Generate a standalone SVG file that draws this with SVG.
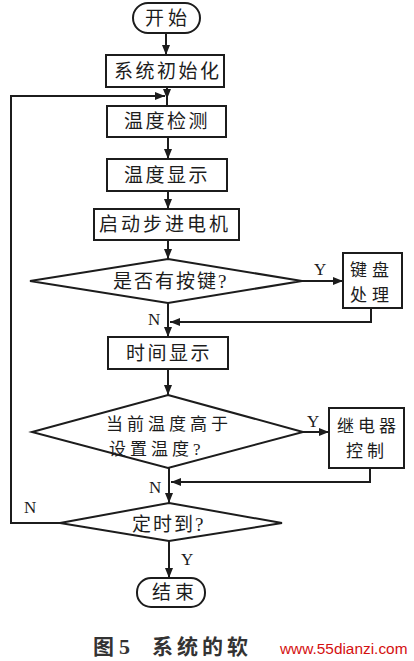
<svg xmlns="http://www.w3.org/2000/svg" width="414" height="661" viewBox="0 0 414 661">
<defs>
<style>
.box{fill:#fff;stroke:#1c1c1c;stroke-width:2}
.ln{fill:none;stroke:#1c1c1c;stroke-width:2}
.t{font-family:"Noto Sans CJK SC","Noto Sans CJK JP",sans-serif;font-size:19px;fill:#1c1c1c}
.t2{font-family:"Noto Sans CJK SC","Noto Sans CJK JP",sans-serif;font-size:17px;fill:#1c1c1c}
.q{font-family:"Liberation Serif",serif}
.yn{font-family:"Liberation Serif",serif;font-size:17px;fill:#1c1c1c}
</style>
<marker id="ah" viewBox="0 0 10 8" refX="10" refY="4" markerWidth="10" markerHeight="8" markerUnits="userSpaceOnUse" orient="auto">
<path d="M0,0 L10,4 L0,8 Z" fill="#1c1c1c"/>
</marker>
</defs>
<rect width="414" height="661" fill="#fff"/>
<g id="connectors">
<line class="ln" x1="166" y1="33" x2="166" y2="55" marker-end="url(#ah)"/>
<line class="ln" x1="167" y1="87" x2="167" y2="106"/>
<line class="ln" x1="167" y1="87" x2="167" y2="99" marker-end="url(#ah)"/>
<polyline class="ln" points="60,523 11,523 11,96 165,96" marker-end="url(#ah)"/>
<line class="ln" x1="168" y1="137" x2="168" y2="159" marker-end="url(#ah)"/>
<line class="ln" x1="168" y1="191" x2="168" y2="209" marker-end="url(#ah)"/>
<line class="ln" x1="168" y1="240" x2="168" y2="259" marker-end="url(#ah)"/>
<line class="ln" x1="302" y1="281" x2="343" y2="281" marker-end="url(#ah)"/>
<line class="ln" x1="168" y1="303" x2="168" y2="337" marker-end="url(#ah)"/>
<polyline class="ln" points="371,308 371,322 170,322" marker-end="url(#ah)"/>
<line class="ln" x1="168" y1="369" x2="168" y2="395" marker-end="url(#ah)"/>
<line class="ln" x1="303" y1="432" x2="329" y2="432" marker-end="url(#ah)"/>
<line class="ln" x1="169" y1="468" x2="169" y2="503" marker-end="url(#ah)"/>
<polyline class="ln" points="370,468 370,482 171,482" marker-end="url(#ah)"/>
<line class="ln" x1="169" y1="541" x2="169" y2="578" marker-end="url(#ah)"/>
<text class="yn" x="314" y="275">Y</text>
<text class="yn" x="148" y="325">N</text>
<text class="yn" x="307" y="427">Y</text>
<text class="yn" x="149" y="493">N</text>
<text class="yn" x="24" y="513">N</text>
<text class="yn" x="181" y="565">Y</text>
</g>
<g id="start">
<rect class="box" x="133" y="3" width="67" height="30" rx="15"/>
<text class="t" x="145" y="25" letter-spacing="4">开始</text>
</g>
<g id="init">
<rect class="box" x="106" y="55" width="118" height="32"/>
<text class="t" x="114" y="78" letter-spacing="2.5">系统初始化</text>
</g>
<g id="detect">
<rect class="box" x="107" y="106" width="119" height="31"/>
<text class="t" x="124" y="128" letter-spacing="2.5">温度检测</text>
</g>
<g id="display">
<rect class="box" x="107" y="159" width="120" height="32"/>
<text class="t" x="124" y="182" letter-spacing="2.5">温度显示</text>
</g>
<g id="motor">
<rect class="box" x="94" y="209" width="145" height="31"/>
<text class="t" x="99" y="231" letter-spacing="3">启动步进电机</text>
</g>
<g id="keycheck">
<polygon class="box" points="168,259 302,281 168,303 30,281"/>
<text class="t" x="113" y="288" letter-spacing="2">是否有按键<tspan class="q">?</tspan></text>
</g>
<g id="keyproc">
<rect class="box" x="343" y="253" width="59" height="55"/>
<text class="t2" letter-spacing="5"><tspan x="350" y="276">键盘</tspan><tspan x="350" y="301">处理</tspan></text>
</g>
<g id="timedisp">
<rect class="box" x="108" y="337" width="120" height="32"/>
<text class="t" x="126" y="360" letter-spacing="2.5">时间显示</text>
</g>
<g id="tempcheck">
<polygon class="box" points="168,395 303,432 168,468 32,432"/>
<text class="t2" letter-spacing="4"><tspan x="106" y="430">当前温度高于</tspan><tspan x="109" y="455">设置温度</tspan><tspan class="q">?</tspan></text>
</g>
<g id="relay">
<rect class="box" x="329" y="408" width="75" height="60"/>
<text class="t2" letter-spacing="4"><tspan x="337" y="432">继电器</tspan><tspan x="346" y="457">控制</tspan></text>
</g>
<g id="timeup">
<polygon class="box" points="169,503 282,523 169,541 60,523"/>
<text class="t" x="132" y="531" letter-spacing="2">定时到<tspan class="q">?</tspan></text>
</g>
<g id="end">
<rect class="box" x="137" y="578" width="68" height="29" rx="14"/>
<text class="t" x="152" y="599" letter-spacing="4">结束</text>
</g>
<g id="caption">
<text font-family="Noto Sans CJK SC, sans-serif" font-size="21" font-weight="bold" fill="#333" x="93" y="654">图</text>
<text font-family="Liberation Serif, serif" font-size="22" font-weight="bold" fill="#333" x="119" y="654">5</text>
<text font-family="Noto Sans CJK SC, sans-serif" font-size="21" font-weight="bold" fill="#333" x="152" y="654" letter-spacing="4">系统的软</text>
<text font-family="Liberation Sans, Arial, sans-serif" font-size="15.4" fill="#d41010" x="280" y="654">www.55dianzi.com</text>
</g>
</svg>
